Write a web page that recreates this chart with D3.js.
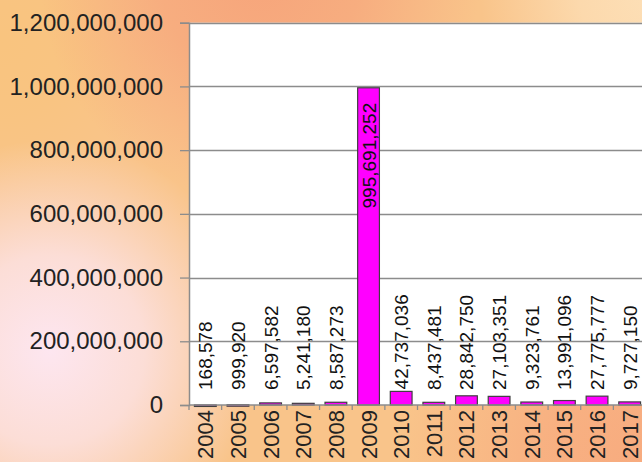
<!DOCTYPE html>
<html>
<head>
<meta charset="utf-8">
<title>Yearly values 2004-2017</title>
<script src="https://d3js.org/d3.v7.min.js"></script>
<style>
  html, body { margin: 0; padding: 0; overflow: hidden; }
  svg { display: block; font-family: "Liberation Sans", Arial, sans-serif; }
</style>
</head>
<body>
<div id="chart"></div>
<script>
// data
const years = ["2004", "2005", "2006", "2007", "2008", "2009", "2010",
               "2011", "2012", "2013", "2014", "2015", "2016", "2017"];
const values = [168578, 999920, 6597582, 5241180, 8587273, 995691252, 42737036,
                8437481, 28842750, 27103351, 9323761, 13991096, 27775777, 9727150];
const yTicks = [0, 200000000, 400000000, 600000000, 800000000, 1000000000, 1200000000];

const width = 642, height = 462;
const plotL = 189, plotR = 646, plotT = 22.7, plotB = 405;

const svg = d3.select("#chart").append("svg")
  .attr("width", width).attr("height", height);

// background gradients
const defs = svg.append("defs");
function radial(id, cx, cy, r, color, op) {
  const g = defs.append("radialGradient").attr("id", id)
    .attr("gradientUnits", "userSpaceOnUse")
    .attr("cx", cx).attr("cy", cy).attr("r", r);
  g.append("stop").attr("offset", 0).attr("stop-color", color).attr("stop-opacity", op);
  g.append("stop").attr("offset", 0.45).attr("stop-color", color).attr("stop-opacity", op * 0.75);
  g.append("stop").attr("offset", 1).attr("stop-color", color).attr("stop-opacity", 0);
}
radial("gPink", 50, 350, 210, "#fde6f0", 1);
radial("gSalmon", 260, -20, 220, "#f6a27a", 0.9);
radial("gLight", 660, -10, 180, "#fde0b8", 1);
radial("gBR", 660, 470, 260, "#f7a47c", 0.8);
radial("gLeft", 0, 40, 170, "#f9c47c", 0.8);

svg.append("rect").attr("width", width).attr("height", height).attr("fill", "#f9c48a");
["gLeft", "gSalmon", "gLight", "gBR", "gPink"].forEach(id =>
  svg.append("rect").attr("width", width).attr("height", height).attr("fill", `url(#${id})`));

const x = d3.scaleBand().domain(years).range([plotL, plotR])
  .paddingInner(1 / 3).paddingOuter(1 / 6);
const y = d3.scaleLinear().domain([0, 1200000000]).range([plotB, plotT]);
const fmt = d3.format(",");

// plot area
svg.append("rect").attr("x", plotL).attr("y", plotT)
  .attr("width", plotR - plotL).attr("height", plotB - plotT).attr("fill", "#fff");

// gridlines
svg.append("g").selectAll("line").data(yTicks.slice(1)).join("line")
  .attr("x1", plotL).attr("x2", plotR)
  .attr("y1", d => Math.round(y(d)) + 0.5).attr("y2", d => Math.round(y(d)) + 0.5)
  .attr("stroke", "#8c8c8c").attr("stroke-width", 1.3);

// y axis
const yAxis = svg.append("g").attr("transform", `translate(${plotL},0)`)
  .call(d3.axisLeft(y).tickValues(yTicks).tickFormat(fmt).tickSize(9).tickPadding(17));
yAxis.select(".domain").attr("stroke", "#8c8c8c").attr("stroke-width", 1.5);
yAxis.selectAll(".tick line").attr("stroke", "#8c8c8c").attr("stroke-width", 1.3);
yAxis.selectAll(".tick text").attr("font-size", 24).attr("fill", "#222")
  .attr("font-family", "Liberation Sans, Arial, sans-serif");

// bars
svg.append("g").selectAll("rect").data(values).join("rect")
  .attr("x", (d, i) => x(years[i]))
  .attr("y", d => y(d))
  .attr("width", x.bandwidth())
  .attr("height", d => Math.max(plotB - y(d), 1.5))
  .attr("fill", "#ff00ff").attr("stroke", "#404040").attr("stroke-width", 1.2);

// x axis
const step = x.step();
const xg = svg.append("g");
xg.append("line").attr("x1", plotL).attr("x2", plotR)
  .attr("y1", plotB).attr("y2", plotB).attr("stroke", "#8c8c8c").attr("stroke-width", 1.5);
xg.selectAll("line.tk").data(d3.range(years.length + 1)).join("line").attr("class", "tk")
  .attr("x1", i => plotL + i * step).attr("x2", i => plotL + i * step)
  .attr("y1", plotB).attr("y2", plotB + 5)
  .attr("stroke", "#8c8c8c").attr("stroke-width", 1.3);
xg.selectAll("text").data(years).join("text")
  .attr("transform", d => `translate(${x(d) + x.bandwidth() / 2 + 8},${plotB + 5}) rotate(-90)`)
  .attr("text-anchor", "end")
  .attr("font-size", 22).attr("fill", "#222")
  .text(d => d);

// data labels
svg.append("g").selectAll("text").data(values).join("text")
  .attr("transform", (d, i) => {
    const cx = x(years[i]) + x.bandwidth() / 2 + 7;
    const inside = plotB - y(d) > 200;
    const ty = inside ? y(d) + 15 : Math.min(y(d) - 2, 390);
    return `translate(${cx},${ty}) rotate(-90)`;
  })
  .attr("text-anchor", d => plotB - y(d) > 200 ? "end" : "start")
  .attr("font-size", 19).attr("fill", "#111")
  .text(d => fmt(d));
</script>
</body>
</html>
